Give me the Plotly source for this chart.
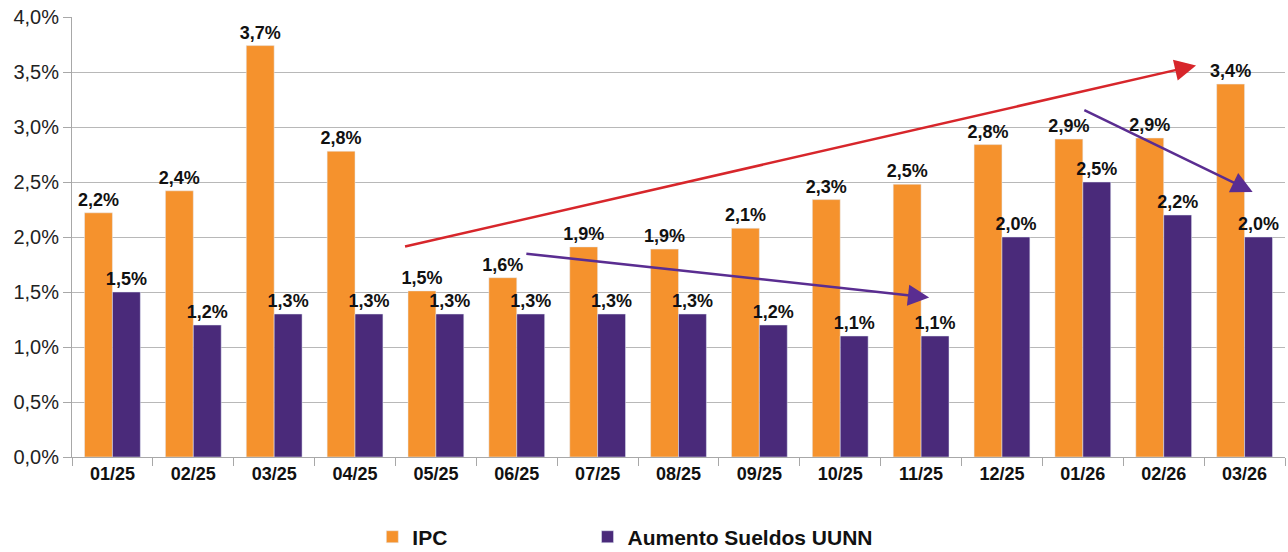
import plotly.graph_objects as go

months = ["01/25", "02/25", "03/25", "04/25", "05/25", "06/25", "07/25", "08/25",
          "09/25", "10/25", "11/25", "12/25", "01/26", "02/26", "03/26"]
ipc = [2.22, 2.42, 3.74, 2.78, 1.51, 1.63, 1.91, 1.89, 2.08, 2.34, 2.48, 2.84, 2.89, 2.90, 3.39]
sueldos = [1.5, 1.2, 1.3, 1.3, 1.3, 1.3, 1.3, 1.3, 1.2, 1.1, 1.1, 2.0, 2.5, 2.2, 2.0]

# trend arrows: (x_from, y_from, x_to, y_to, colour), x in category index units
arrows = [
    (3.6, 1.91, 13.4, 3.56, "#d7262b"),
    (5.1, 1.85, 10.1, 1.45, "#5a2d91"),
    (12.0, 3.16, 14.1, 2.41, "#5a2d91"),
]

ORANGE = "#f5922d"
PURPLE = "#4a2a7a"


def pct_label(v):
    return f"{v:.1f}".replace(".", ",") + "%"


label_font = dict(family="Liberation Sans", size=18, color="#111111", weight="bold")
legend_font = dict(family="Liberation Sans", size=21, color="#111111", weight="bold")

fig = go.Figure()
fig.add_trace(go.Bar(
    x=months, y=ipc, name="IPC", marker_color=ORANGE,
    text=[pct_label(v) for v in ipc], textposition="outside",
    textfont=label_font, constraintext="none", cliponaxis=False,
    legend="legend",
))
fig.add_trace(go.Bar(
    x=months, y=sueldos, name="Aumento Sueldos UUNN", marker_color=PURPLE,
    text=[pct_label(v) for v in sueldos], textposition="outside",
    textfont=label_font, constraintext="none", cliponaxis=False,
    legend="legend2",
))

for x0, y0, x1, y1, col in arrows:
    fig.add_annotation(
        x=x1, y=y1, ax=x0, ay=y0, xref="x", yref="y", axref="x", ayref="y",
        text="", showarrow=True, arrowhead=2, arrowsize=1.7, arrowwidth=2.5,
        arrowcolor=col,
    )

fig.update_layout(
    width=1288, height=552,
    margin=dict(l=72, r=3, t=17, b=95, autoexpand=False),
    paper_bgcolor="white", plot_bgcolor="white",
    separators=",.",
    barmode="group", bargap=0.31, bargroupgap=0,
    font=dict(family="Liberation Sans", color="#111111"),
    legend=dict(orientation="h", x=0.2476, xanchor="left", y=-0.182,
                yanchor="middle", font=legend_font),
    legend2=dict(orientation="h", x=0.425, xanchor="left", y=-0.182,
                 yanchor="middle", font=legend_font),
    showlegend=True,
)
fig.update_yaxes(
    range=[0, 4.0], dtick=0.5, tickformat=".1f", ticksuffix="%",
    showgrid=True, gridcolor="#b8b8b8", gridwidth=1,
    showline=True, linecolor="#a8a8a8", linewidth=1,
    ticks="outside", ticklen=8, tickcolor="#a8a8a8",
    tickfont=dict(family="Liberation Sans", size=20, color="#222222"),
    zeroline=False, automargin=False,
)
fig.update_xaxes(
    showline=True, linecolor="#a8a8a8", linewidth=1,
    ticks="outside", tickson="boundaries", ticklen=8, tickcolor="#a8a8a8",
    tickfont=dict(family="Liberation Sans", size=18, color="#111111", weight="bold"),
    automargin=False,
)

fig.write_html(
    "out.html",
    config={"displayModeBar": False},
    post_script="document.body.style.margin='0';document.body.style.overflow='hidden';",
)
